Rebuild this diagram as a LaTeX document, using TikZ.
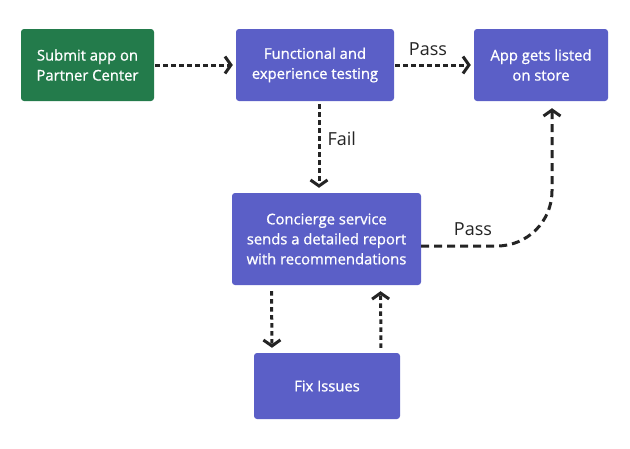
\documentclass[tikz,border=0pt]{standalone}
\usepackage{fontspec}
\setmainfont{Open Sans}
\newfontfamily\boxfont[FakeBold=1]{Open Sans}
\usetikzlibrary{arrows.meta}
\definecolor{teamspurple}{HTML}{5B5FC7}
\definecolor{submitgreen}{HTML}{237B4B}
\definecolor{linegray}{HTML}{242424}
\begin{document}
\begin{tikzpicture}[x=1pt, y=-1pt,
        box/.style={rectangle, rounded corners=3pt, fill=teamspurple, text=white, align=center, inner sep=0pt, font=\boxfont\fontsize{14.8}{20}\selectfont},
        dotarrow/.style={draw=linegray, line width=3pt, dash pattern=on 4.5pt off 3.5pt, -{Straight Barb[length=6pt,width=17pt]}},
        dasharrow/.style={draw=linegray, line width=3pt, dash pattern=on 8pt off 5pt, -{Straight Barb[length=6pt,width=17pt]}},
        lbl/.style={text=linegray, font=\fontsize{18}{20}\selectfont}]
        \useasboundingbox (0,0) rectangle (630,448);
        \node[box, fill=submitgreen, minimum width=133pt, minimum height=72pt] (submit) at (87.5,65) {Submit app on\\Partner Center};
        \node[box, minimum width=158pt, minimum height=72pt] (testing) at (315,65) {Functional and\\experience testing};
        \node[box, minimum width=134pt, minimum height=72pt] (listed) at (541,65) {App gets listed\\on store};
        \node[box, minimum width=189pt, minimum height=92pt] (concierge) at (326.5,239) {Concierge service\\sends a detailed report\\with recommendations};
        \node[box, minimum width=146pt, minimum height=66pt] (fix) at (327,386) {Fix Issues};
        \draw[dotarrow, shorten <=1pt, shorten >=3pt] (submit) -- (testing);
        \draw[dotarrow, shorten <=1pt, shorten >=3pt] (testing) -- (listed);
        \node[lbl] (passtop) at (428,49) {Pass};
        \draw[dotarrow, shorten <=3pt, shorten >=5pt] ([xshift=4pt]testing.south) -- ([xshift=-7.5pt]concierge.north);
        \node[lbl, anchor=west] (fail) at (324,139) {Fail};
        \draw[dotarrow, shorten <=6pt, shorten >=5pt] ([xshift=-55pt]concierge.south) -- ([xshift=-55pt]fix.north);
        \draw[dotarrow, shorten <=5pt, shorten >=6pt] ([xshift=54pt]fix.north) -- ([xshift=54pt]concierge.south);
        \draw[dasharrow, rounded corners=55pt, shorten >=7pt] ([yshift=-7pt]concierge.east) -| ([xshift=11pt]listed.south);
        \node[lbl] (passbottom) at (473,229) {Pass};
    \end{tikzpicture}
\end{document}
